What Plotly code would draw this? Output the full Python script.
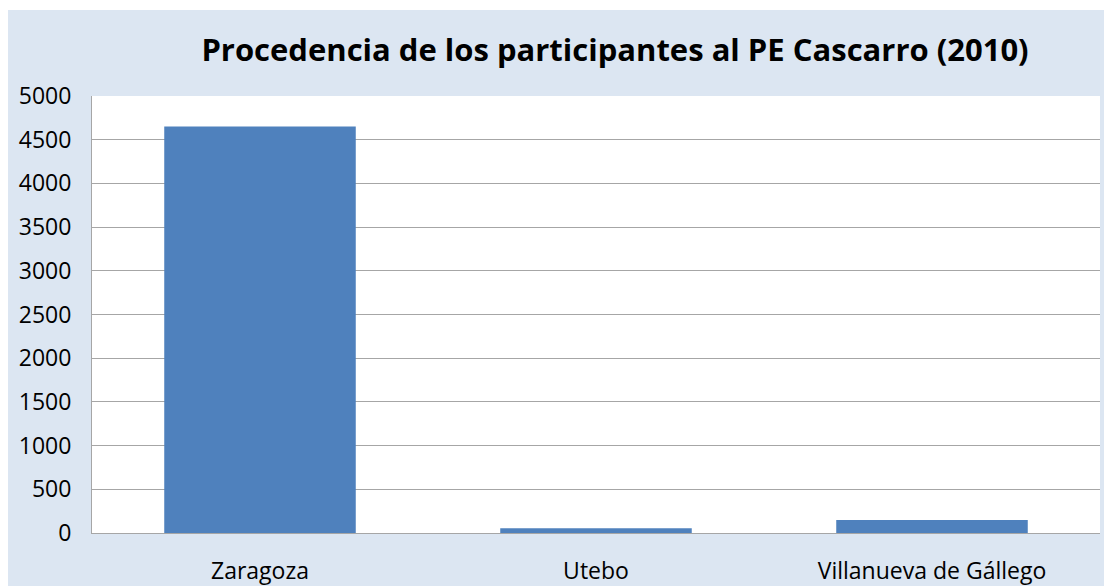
import plotly.graph_objects as go

categories = ["Zaragoza", "Utebo", "Villanueva de Gállego"]
participants = [4650, 55, 150]
y_ticks = [0, 500, 1000, 1500, 2000, 2500, 3000, 3500, 4000, 4500, 5000]

W, H = 1108, 586
L, R, T, B = 92, 8, 96, 53
pw, ph = W - L - R, H - T - B

fig = go.Figure(go.Bar(x=categories, y=participants, marker=dict(color="#4f81bd", line=dict(width=0)),
                       width=0.57))

bg_x0 = (8 - L) / pw
bg_x1 = (1104 - L) / pw
bg_y1 = (H - B - 10) / ph
bg_y0 = (H - B - H) / ph

fig.update_layout(
    width=W, height=H,
    margin=dict(l=L, r=R, t=T, b=B),
    paper_bgcolor="white",
    plot_bgcolor="rgba(0,0,0,0)",
    showlegend=False,
    font=dict(family="Open Sans", color="black"),
    title=dict(text="<b>Procedencia de los participantes al PE Cascarro (2010)</b>",
               x=615 / W, xanchor="center", y=1 - 50 / H, yanchor="middle",
               font=dict(size=31, family="Open Sans", color="black")),
    shapes=[
        dict(type="rect", xref="paper", yref="paper", x0=bg_x0, x1=bg_x1, y0=bg_y0, y1=bg_y1,
             fillcolor="#dce6f2", line=dict(width=0), layer="below"),
        dict(type="rect", xref="paper", yref="paper", x0=0, x1=1, y0=0, y1=1,
             fillcolor="white", line=dict(width=0), layer="below"),
    ],
    bargap=0.43,
)
fig.update_xaxes(showline=True, linecolor="#a6a6a6", linewidth=1, showgrid=False, automargin=False,
                 tickfont=dict(size=23, color="black"), ticks="", ticklabelstandoff=17,
                 range=[-0.5, 2.5])
fig.update_yaxes(range=[0, 5000], tickvals=y_ticks, showline=True, linecolor="#a6a6a6", linewidth=1,
                 showgrid=True, gridcolor="#a6a6a6", gridwidth=1, zeroline=False, automargin=False,
                 tickfont=dict(size=23, color="black"), ticks="", ticklabelstandoff=15,
                 mirror=False)
fig.write_html("out.html", config={"displayModeBar": False},
               post_script="document.body.style.margin='0';document.body.style.overflow='hidden';")
